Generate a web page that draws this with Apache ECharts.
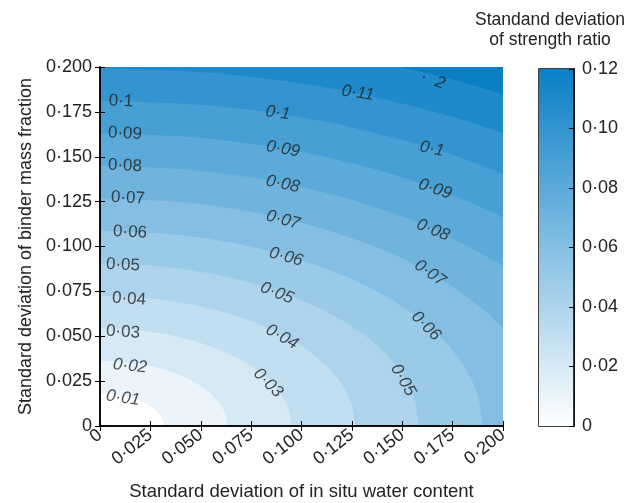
<!DOCTYPE html>
<html><head><meta charset="utf-8">
<script src="https://cdn.jsdelivr.net/npm/echarts@6/dist/echarts.min.js"></script>
<style>html,body{margin:0;padding:0;background:#fff}#c{width:638px;height:503px}</style>
</head><body><div id="c"></div>
<script>
// ---- data ----
const levels = [0.01, 0.02, 0.03, 0.04, 0.05, 0.06, 0.07, 0.08, 0.09, 0.10, 0.11, 0.12];
const contour01 = [[0,0.0181],[0.0055,0.0178],[0.0108,0.0170],[0.0158,0.0157],[0.0203,0.0139],[0.0242,0.0116],[0.0274,0.0091],[0.0297,0.0062],[0.0312,0.0031],[0.0317,0]];
const contour02 = [[0,0.0362],[0.0110,0.0357],[0.0217,0.0341],[0.0317,0.0314],[0.0407,0.0278],[0.0485,0.0233],[0.0548,0.0181],[0.0595,0.0124],[0.0623,0.0063],[0.0633,0]];
const contour03 = [[0,0.0544],[0.0165,0.0535],[0.0325,0.0511],[0.0475,0.0471],[0.0610,0.0416],[0.0727,0.0349],[0.0822,0.0272],[0.0892,0.0186],[0.0935,0.0094],[0.0950,0]];
const contour04 = [[0,0.0725],[0.0220,0.0714],[0.0433,0.0681],[0.0633,0.0628],[0.0814,0.0555],[0.0970,0.0466],[0.1096,0.0362],[0.1190,0.0248],[0.1247,0.0126],[0.1266,0]];
const contour05 = [[0,0.0906],[0.0275,0.0892],[0.0541,0.0851],[0.0791,0.0785],[0.1017,0.0694],[0.1212,0.0582],[0.1371,0.0453],[0.1487,0.0310],[0.1558,0.0157],[0.1583,0]];
const contour06 = [[0,0.1087],[0.0330,0.1071],[0.0650,0.1022],[0.0950,0.0942],[0.1221,0.0833],[0.1455,0.0699],[0.1645,0.0544],[0.1784,0.0372],[0.1870,0.0189],[0.1899,0]];
const contour07 = [[0,0.1268],[0.0385,0.1249],[0.0758,0.1192],[0.1108,0.1098],[0.1424,0.0972],[0.1697,0.0815],[0.1919,0.0634],[0.2,0.0545]];
const contour08 = [[0,0.1450],[0.0440,0.1428],[0.0866,0.1362],[0.1266,0.1255],[0.1628,0.1110],[0.1940,0.0932],[0.2,0.0889]];
const contour09 = [[0,0.1631],[0.0495,0.1606],[0.0974,0.1532],[0.1424,0.1412],[0.1831,0.1249],[0.2,0.1161]];
const contour10 = [[0,0.1812],[0.0550,0.1785],[0.1083,0.1703],[0.1583,0.1569],[0.1815,0.1484],[0.2,0.1404]];
const contour11 = [[0,0.1993],[0.0605,0.1963],[0.1191,0.1873],[0.1741,0.1726],[0.2,0.1631]];
const contour12 = [[0,0.2],[0.149,0.2],[0.1545,0.1986],[0.1665,0.1954],[0.1783,0.1920],[0.1899,0.1883],[0.2,0.1848]];
const contours = [contour01, contour02, contour03, contour04, contour05, contour06,
                  contour07, contour08, contour09, contour10, contour11, contour12];

// contour labels
const labelX = [0.0104,0.0124,0.0124,0.0139,0.0149,0.0114,0.0144,0.0114,0.0149,0.0114,
                0.128,0.0883,0.0908,0.0908,0.0908,0.0923,0.0878,0.0903,0.0834,
                0.1630,0.1648,0.1663,0.1653,0.1638,0.1618,0.1504];
const labelY = [0.181,0.163,0.145,0.127,0.108,0.0897,0.0708,0.0524,0.0334,0.0156,
                0.1855,0.1744,0.1543,0.1348,0.1148,0.0942,0.0741,0.0496,0.024,
                0.1935,0.1543,0.132,0.1092,0.0852,0.0557,0.0256];
const labelText = ['0·1','0·09','0·08','0·07','0·06','0·05','0·04','0·03','0·02','0·01',
                   '0·11','0·1','0·09','0·08','0·07','0·06','0·05','0·04','0·03',
                   '0·12','0·1','0·09','0·08','0·07','0·06','0·05'];
const labelAngle = [-3,-3,-3,-3,-3,-3,-4,-4,-6,-8,
                    -8,-8,-10,-12,-15,-15,-22,-30,-45,
                    -20,-12,-18,-22,-35,-45,-60];

const axisTicks = [0, 0.025, 0.05, 0.075, 0.1, 0.125, 0.15, 0.175, 0.2];
const barTicks = [0, 0.02, 0.04, 0.06, 0.08, 0.10, 0.12];
const barMax = 0.12;

// ---- styling helpers ----
const FONT = 'Liberation Sans, Arial, Helvetica, sans-serif';
function cmap(t) {
  const r = Math.round(255 - 245 * t), g = Math.round(255 - 128 * t), b = Math.round(255 - 57 * t);
  return 'rgb(' + r + ',' + g + ',' + b + ')';
}
function fmt(d) { return function (v) { return v === 0 ? '0' : v.toFixed(d).replace('.', '·'); }; }

const step = axisTicks[1] - axisTicks[0];
const barStep = barTicks[1] - barTicks[0];
const axLine = { show: true, lineStyle: { color: '#000', width: 1.5 } };
const axTick = { show: true, inside: true, length: 5, lineStyle: { color: '#000', width: 1 } };

const series = [];
for (let i = contours.length - 1; i >= 0; i--) {
  series.push({
    type: 'line', xAxisIndex: 0, yAxisIndex: 0,
    data: contours[i], smooth: i === 11 ? false : 0.3,
    symbol: 'none', silent: true, animation: false,
    lineStyle: { width: 0 },
    areaStyle: { color: cmap((levels[i] - 0.01) / barMax), opacity: 1, origin: 'start' }
  });
}
series.push({
  type: 'scatter', xAxisIndex: 0, yAxisIndex: 0, z: 5, symbolSize: 0, silent: true, animation: false,
  data: labelX.map(function (x, i) {
    const t = labelText[i];
    return {
      value: [x, labelY[i]],
      label: {
        show: true, position: 'inside', rotate: labelAngle[i],
        fontStyle: labelAngle[i] <= -6 ? 'italic' : 'normal',
        formatter: t === '0·12' ? '{h|0}·{h|1}2' : t,
        rich: { h: { color: 'rgba(0,0,0,0)', fontSize: 17, fontFamily: FONT } }
      }
    };
  }),
  label: { show: true, color: '#222', fontSize: 17, fontFamily: FONT }
});
series.push({
  type: 'bar', xAxisIndex: 2, yAxisIndex: 2, data: [barMax], barWidth: '100%', silent: true, animation: false,
  itemStyle: {
    color: { type: 'linear', x: 0, y: 1, x2: 0, y2: 0,
      colorStops: [{ offset: 0, color: cmap(0) }, { offset: 1, color: cmap(1) }] }
  }
});

const option = {
  animation: false,
  backgroundColor: '#fff',
  textStyle: { fontFamily: FONT },
  grid: [
    { left: 100, top: 67, width: 403, height: 359, show: true, backgroundColor: cmap(1), borderWidth: 0,
      outerBoundsMode: 'none', containLabel: false },
    { left: 539, top: 69, width: 35, height: 357, show: true, borderColor: '#000', borderWidth: 1.5,
      outerBoundsMode: 'none', containLabel: false }
  ],
  xAxis: [
    { gridIndex: 0, type: 'value', min: 0, max: 0.2, interval: step, position: 'bottom', z: 10,
      axisLine: axLine, axisTick: axTick, splitLine: { show: false },
      axisLabel: { rotate: 38, formatter: fmt(3), fontSize: 18, color: '#222', margin: 7, fontFamily: FONT },
      name: 'Standard deviation of in situ water content', nameLocation: 'middle', nameGap: 56,
      nameTextStyle: { fontSize: 18.5, color: '#222', fontFamily: FONT } },
    { gridIndex: 0, type: 'value', min: 0, max: 0.2, interval: step, position: 'top', z: 10,
      axisLine: axLine, axisTick: axTick, splitLine: { show: false }, axisLabel: { show: false } },
    { gridIndex: 1, type: 'category', data: ['c'], show: false }
  ],
  yAxis: [
    { gridIndex: 0, type: 'value', min: 0, max: 0.2, interval: step, position: 'left', z: 10,
      axisLine: axLine, axisTick: axTick, splitLine: { show: false },
      axisLabel: { formatter: fmt(3), fontSize: 18, color: '#222', margin: 8, fontFamily: FONT },
      name: 'Standard deviation of binder mass fraction', nameLocation: 'middle', nameGap: 64,
      nameTextStyle: { fontSize: 18, color: '#222', fontFamily: FONT } },
    { gridIndex: 0, type: 'value', min: 0, max: 0.2, interval: step, position: 'right', z: 10,
      axisLine: axLine, axisTick: axTick, splitLine: { show: false }, axisLabel: { show: false } },
    { gridIndex: 1, type: 'value', min: 0, max: barMax, interval: barStep, position: 'right', z: 10,
      axisLine: axLine, axisTick: axTick, splitLine: { show: false },
      axisLabel: { formatter: fmt(2), fontSize: 18, color: '#222', margin: 8, fontFamily: FONT } }
  ],
  graphic: [
    { type: 'text', x: 550, y: 30, style: { text: 'Standand deviation\nof strength ratio',
      fontSize: 17.5, fill: '#222', fontFamily: FONT, align: 'center', verticalAlign: 'middle', lineHeight: 20 } }
  ],
  series: series
};
const chart = echarts.init(document.getElementById('c'), null, { renderer: 'canvas' });
chart.setOption(option);
</script>
</body></html>
